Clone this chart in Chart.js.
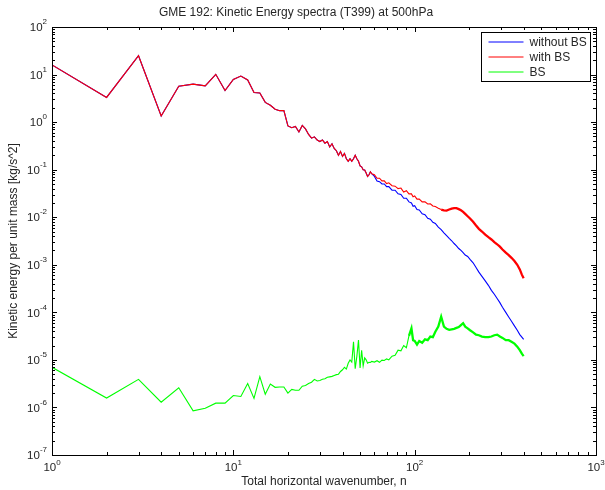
<!DOCTYPE html>
<html>
<head>
<meta charset="utf-8">
<script src="https://cdn.jsdelivr.net/npm/chart.js@4.4.1/dist/chart.umd.min.js"></script>
<style>
  body { margin: 0; background: #fff; }
  #wrap { width: 605px; height: 490px; }
</style>
</head>
<body>
<div id="wrap"><canvas id="ke-chart" width="605" height="490"></canvas></div>
<script>
// wavenumbers 1..58, where both runs coincide
const nLow = [1, 2, 3, 4, 5, 6, 7, 8, 9, 10, 11, 12, 13, 14, 15, 16, 17, 18, 19, 20,
    21, 22, 23, 24, 25, 26, 27, 28, 29, 30, 31, 32, 33, 34, 35, 36, 37, 38, 39, 40,
    41, 42, 43, 44, 45, 46, 47, 48, 49, 50, 51, 52, 53, 54, 55, 56, 57, 58];
const keShared = [15.9, 3.3, 24.9, 1.35, 5.7, 6.3, 5.8, 10.1, 4.6, 7.9, 9.3, 7.7, 4.2, 4.1, 2.6, 2.26, 1.86, 1.74, 1.74, 0.83,
    0.76, 0.81, 0.62, 0.85, 0.72, 0.55, 0.46, 0.49, 0.42, 0.39, 0.42, 0.36, 0.39, 0.30, 0.35, 0.28, 0.25, 0.20, 0.24, 0.19,
    0.22, 0.17, 0.15, 0.17, 0.15, 0.17, 0.20, 0.17, 0.15, 0.12, 0.115, 0.10, 0.098, 0.085, 0.072, 0.078, 0.09, 0.082];
const bsLow = [7.0e-6, 1.58e-6, 3.9e-6, 1.29e-6, 2.6e-6, 8.5e-7, 9.6e-7, 1.23e-6, 1.23e-6, 1.78e-6,
    1.7e-6, 3.2e-6, 1.55e-6, 4.45e-6, 1.9e-6, 3.1e-6, 2.65e-6, 2.7e-6, 2.7e-6, 2.0e-6,
    2.4e-6, 2.3e-6, 2.3e-6, 2.8e-6, 2.9e-6, 3.2e-6, 3.4e-6, 3.9e-6, 3.6e-6, 3.7e-6,
    3.9e-6, 4.0e-6, 4.3e-6, 4.4e-6, 4.5e-6, 4.7e-6, 4.9e-6, 5.0e-6, 5.7e-6, 6.2e-6,
    7.0e-6, 6.4e-6, 8.5e-6, 1.0e-5, 9.0e-6, 2.4e-5, 6.5e-6, 1.2e-5, 2.6e-5, 6.8e-6,
    1.6e-5, 7.5e-6, 1.1e-5, 1.0e-5, 8.5e-6, 8.9e-6, 8.8e-6, 9.3e-6];

// higher wavenumbers, where the runs separate
const nHigh = [60, 62, 64, 66, 68, 70, 72, 75, 78, 81, 84, 87, 90, 93, 96, 98, 100, 103, 106, 110,
    114, 118, 122, 126, 130, 135, 140, 145, 150, 155, 160, 165, 170, 175, 180, 185, 190, 196, 202, 210,
    218, 226, 235, 245, 255, 265, 275, 285, 295, 305, 318, 330, 342, 355, 368, 380, 390, 399];
const keWithoutHigh = [0.072, 0.058, 0.056, 0.050, 0.050, 0.044, 0.044, 0.037, 0.037, 0.031, 0.030, 0.025, 0.025, 0.021, 0.020, 0.017, 0.0175, 0.0145, 0.0142, 0.0118,
    0.0113, 0.0095, 0.0091, 0.0078, 0.0074, 0.0062, 0.0055, 0.0047, 0.0041, 0.0036, 0.0032, 0.0028, 0.0025, 0.0022, 0.0020, 0.0018, 0.0016, 0.0015, 0.0013, 0.0011,
    0.00088, 0.00070, 0.00057, 0.00046, 0.00037, 0.00029, 0.00024, 0.000195, 0.000160, 0.000128, 0.000100, 0.000080, 0.000065, 0.000052, 0.000042, 0.000034, 0.000030, 0.000027];
const keWithHigh = [0.078, 0.066, 0.066, 0.058, 0.058, 0.051, 0.053, 0.046, 0.045, 0.040, 0.041, 0.034, 0.036, 0.031, 0.031, 0.027, 0.028, 0.024, 0.024, 0.021,
    0.021, 0.019, 0.0192, 0.0172, 0.0168, 0.0155, 0.0145, 0.014, 0.0138, 0.0145, 0.0152, 0.0155, 0.0155, 0.0148, 0.014, 0.013, 0.0118, 0.0105, 0.0094, 0.0080,
    0.0067, 0.0057, 0.0050, 0.0043, 0.0038, 0.0034, 0.0030, 0.0027, 0.0024, 0.0021, 0.0018, 0.0016, 0.0014, 0.0012, 0.00100, 0.00080, 0.00062, 0.00052];
const bsHigh = [9.0e-6, 9.6e-6, 8.9e-6, 9.9e-6, 9.7e-6, 1.05e-5, 1.0e-5, 1.2e-5, 1.25e-5, 1.6e-5, 1.55e-5, 2.0e-5, 1.8e-5, 3.2e-5, 4.6e-5, 2.6e-5, 2.5e-5, 2.1e-5, 2.5e-5, 2.3e-5,
    2.7e-5, 2.6e-5, 3.1e-5, 3.0e-5, 3.9e-5, 5.0e-5, 8.1e-5, 5.0e-5, 4.5e-5, 4.3e-5, 4.4e-5, 4.5e-5, 4.7e-5, 4.9e-5, 5.4e-5, 5.9e-5, 5.0e-5, 4.6e-5, 4.2e-5, 3.8e-5,
    3.4e-5, 3.3e-5, 3.1e-5, 3.0e-5, 3.0e-5, 3.1e-5, 3.3e-5, 3.4e-5, 3.1e-5, 2.9e-5, 2.6e-5, 2.6e-5, 2.4e-5, 2.2e-5, 1.9e-5, 1.6e-5, 1.35e-5, 1.2e-5];

const seriesLabels = ['without BS', 'with BS', 'BS'];
const xDecades = [0, 1, 2, 3];
const yDecades = [-7, -6, -5, -4, -3, -2, -1, 0, 1, 2];

const FONT = '"Liberation Sans", Arial, Helvetica, sans-serif';
const TXT = '#262626';

const wavenumber = nLow.concat(nHigh);
function toPoints(values) {
    return values.map((v, i) => ({ x: wavenumber[i], y: v }));
}

// thicker line where the original spectrum is a noisy band
function bandWidth(from) {
    return ctx => ctx.p0.parsed.x >= from ? 2.3 : 1.1;
}

// MATLAB-like box axes with inward ticks and 10^k labels
const matlabAxes = {
    id: 'matlabAxes',
    afterDatasetsDraw(chart) {
        const ctx = chart.ctx;
        const a = chart.chartArea;
        const xs = chart.scales.x, ys = chart.scales.y;
        ctx.save();
        ctx.strokeStyle = '#000';
        ctx.lineWidth = 1;
        ctx.strokeRect(Math.round(a.left) + 0.5, Math.round(a.top) + 0.5,
            Math.round(a.right - a.left), Math.round(a.bottom - a.top));

        ctx.beginPath();
        // x ticks, top and bottom
        xDecades.forEach(d => {
            for (let m = 1; m <= 9; m++) {
                if (d === 3 && m > 1) break;
                const px = Math.round(xs.getPixelForValue(m * Math.pow(10, d))) + 0.5;
                const len = m === 1 ? 5 : 3;
                ctx.moveTo(px, a.bottom); ctx.lineTo(px, a.bottom - len);
                ctx.moveTo(px, a.top); ctx.lineTo(px, a.top + len);
            }
        });
        // y ticks, left and right
        yDecades.forEach(d => {
            for (let m = 1; m <= 9; m++) {
                if (d === 2 && m > 1) break;
                const py = Math.round(ys.getPixelForValue(m * Math.pow(10, d))) + 0.5;
                const len = m === 1 ? 5 : 3;
                ctx.moveTo(a.left, py); ctx.lineTo(a.left + len, py);
                ctx.moveTo(a.right, py); ctx.lineTo(a.right - len, py);
            }
        });
        ctx.stroke();

        ctx.fillStyle = TXT;
        ctx.textBaseline = 'middle';
        // y labels
        yDecades.forEach(d => {
            const py = ys.getPixelForValue(Math.pow(10, d));
            const exp = d < 0 ? '-' + (-d) : String(d);
            ctx.font = '8px ' + FONT;
            const ew = ctx.measureText(exp).width;
            const right = a.left - 5;
            ctx.textAlign = 'left';
            ctx.fillText(exp, right - ew, py - 5);
            ctx.font = '11.5px ' + FONT;
            ctx.textAlign = 'right';
            ctx.fillText('10', right - ew, py + 1);
        });
        // x labels
        xDecades.forEach(d => {
            const px = xs.getPixelForValue(Math.pow(10, d));
            const exp = String(d);
            ctx.font = '8px ' + FONT;
            const ew = ctx.measureText(exp).width;
            ctx.font = '11.5px ' + FONT;
            const bw = ctx.measureText('10').width;
            const start = px - (bw + ew) / 2;
            ctx.textAlign = 'left';
            ctx.fillText('10', start, a.bottom + 13);
            ctx.font = '8px ' + FONT;
            ctx.fillText(exp, start + bw, a.bottom + 8);
        });

        // titles
        ctx.font = '12px ' + FONT;
        ctx.textAlign = 'center';
        ctx.fillText('GME 192: Kinetic Energy spectra (T399) at 500hPa', 296, 12.5);
        ctx.fillText('Total horizontal wavenumber, n', (a.left + a.right) / 2, 482);
        ctx.translate(14, (a.top + a.bottom) / 2);
        ctx.rotate(-Math.PI / 2);
        ctx.fillText('Kinetic energy per unit mass [kg/s^2]', 0, 0);
        ctx.restore();
    },
    afterDraw(chart) {
        // legend box in upper right corner
        const ctx = chart.ctx;
        const bx = 481.5, by = 32.5, bw = 109, bh = 49;
        ctx.save();
        ctx.fillStyle = '#fff';
        ctx.fillRect(bx, by, bw, bh);
        ctx.strokeStyle = '#000';
        ctx.lineWidth = 1;
        ctx.strokeRect(bx, by, bw, bh);
        ctx.font = '12px ' + FONT;
        ctx.textBaseline = 'middle';
        ctx.textAlign = 'left';
        chart.data.datasets.forEach((ds, i) => {
            const yy = by + 9.5 + i * 15;
            ctx.strokeStyle = ds.borderColor;
            ctx.beginPath();
            ctx.moveTo(bx + 7, yy);
            ctx.lineTo(bx + 42, yy);
            ctx.stroke();
            ctx.fillStyle = TXT;
            ctx.fillText(ds.label, bx + 48, yy + 0.5);
        });
        ctx.restore();
    }
};

new Chart(document.getElementById('ke-chart'), {
    type: 'line',
    data: {
        datasets: [{
            label: seriesLabels[0],
            data: toPoints(keShared.concat(keWithoutHigh)),
            borderColor: '#0000ff',
            borderWidth: 1.1,
            order: 3
        }, {
            label: seriesLabels[1],
            data: toPoints(keShared.concat(keWithHigh)),
            borderColor: '#ff0000',
            borderWidth: 1.1,
            segment: { borderWidth: bandWidth(140) },
            order: 2
        }, {
            label: seriesLabels[2],
            data: toPoints(bsLow.concat(bsHigh)),
            borderColor: '#00ff00',
            borderWidth: 1.1,
            segment: { borderWidth: bandWidth(93) },
            order: 1
        }]
    },
    options: {
        responsive: false,
        animation: false,
        layout: { padding: { left: 52, top: 27, right: 9, bottom: 35 } },
        elements: { point: { radius: 0 }, line: { tension: 0 } },
        scales: {
            x: { type: 'logarithmic', min: 1, max: 1000, display: false },
            y: { type: 'logarithmic', min: 1e-7, max: 100, display: false }
        },
        plugins: {
            legend: { display: false },
            tooltip: { enabled: false }
        }
    },
    plugins: [matlabAxes]
});
</script>
</body>
</html>
